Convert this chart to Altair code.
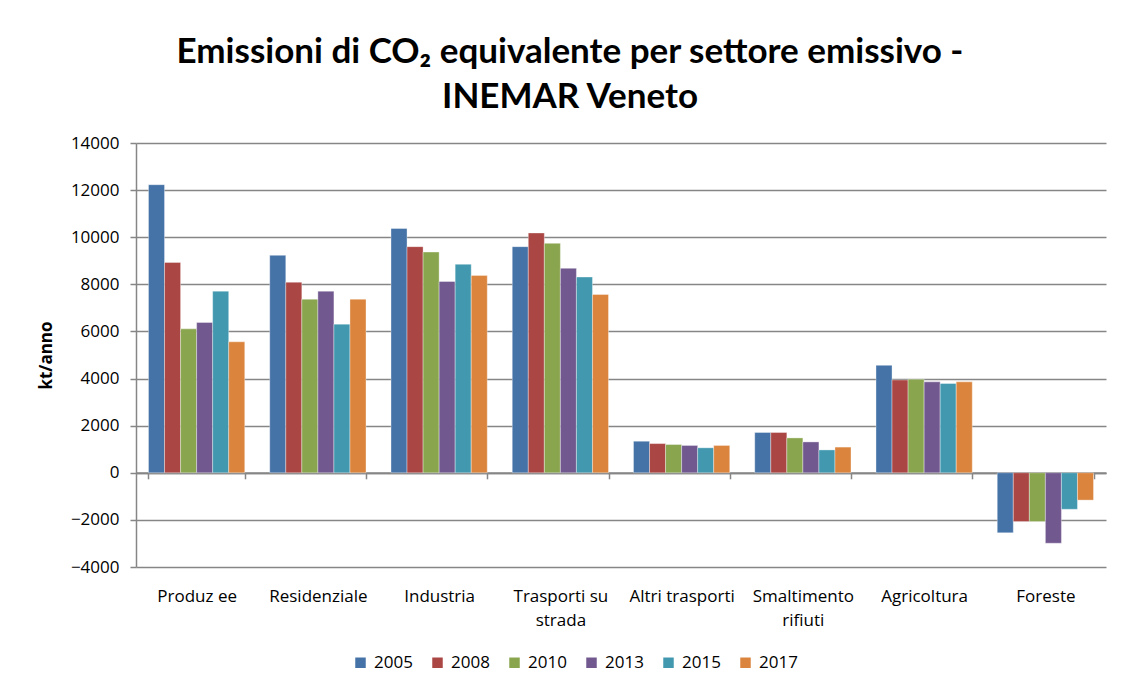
import altair as alt
import pandas as pd

categories = ["Produz ee", "Residenziale", "Industria", "Trasporti su strada",
              "Altri trasporti", "Smaltimento rifiuti", "Agricoltura", "Foreste"]
years = ["2005", "2008", "2010", "2013", "2015", "2017"]

v2005 = [12230, 9230, 10370, 9600, 1340, 1710, 4560, -2550]
v2008 = [8930, 8090, 9600, 10180, 1240, 1710, 3940, -2070]
v2010 = [6110, 7370, 9370, 9740, 1200, 1480, 3970, -2070]
v2013 = [6380, 7710, 8120, 8680, 1160, 1310, 3860, -2990]
v2015 = [7710, 6310, 8850, 8310, 1060, 970, 3790, -1550]
v2017 = [5560, 7370, 8380, 7570, 1160, 1090, 3860, -1160]
series = [v2005, v2008, v2010, v2013, v2015, v2017]

y_ticks = [-4000, -2000, 0, 2000, 4000, 6000, 8000, 10000, 12000, 14000]
colors = ["#4572A7", "#AA4643", "#89A54E", "#71588F", "#4198AF", "#DB843D"]

rows = []
for yr, vals in zip(years, series):
    for c, v in zip(categories, vals):
        rows.append({"Settore": c, "Anno": yr, "Valore": v})
df = pd.DataFrame(rows)

FONT = "Open Sans"
TFONT = "Lato"
GRAY = "#868686"

label_expr = ("datum.label == 'Trasporti su strada' ? ['Trasporti su', 'strada'] : "
              "datum.label == 'Smaltimento rifiuti' ? ['Smaltimento', 'rifiuti'] : datum.label")

chart = alt.Chart(df).mark_bar(stroke="white", strokeWidth=0.6, strokeOpacity=0.6).encode(
    x=alt.X("Settore:N", sort=categories, title=None,
            scale=alt.Scale(paddingInner=0.206, paddingOuter=0.103),
            axis=alt.Axis(orient="bottom", offset=-94.2, tickBand="extent", labelAngle=0,
                          labelPadding=110, labelExpr=label_expr, labelFontSize=17,
                          labelFont=FONT, labelColor="black", labelLineHeight=24,
                          labelOverlap=False, labelBaseline="top",
                          domainColor=GRAY, domainWidth=2, tickColor=GRAY, tickSize=6,
                          tickWidth=1.5, grid=False)),
    xOffset=alt.XOffset("Anno:N", sort=years, scale=alt.Scale(paddingInner=0, paddingOuter=0)),
    y=alt.Y("Valore:Q", scale=alt.Scale(domain=[-4000, 14000], nice=False),
            axis=alt.Axis(values=y_ticks, format="d", title="kt/anno", labelFontSize=17,
                          labelFont=FONT, labelColor="black", labelPadding=11,
                          tickSize=6, tickColor=GRAY, tickWidth=1.5,
                          domainColor=GRAY, domainWidth=1.5,
                          gridColor=GRAY, gridWidth=1.5,
                          titleFont=FONT, titleFontSize=17, titleFontWeight="bold",
                          titleColor="black", titlePadding=15)),
    color=alt.Color("Anno:N", sort=years, scale=alt.Scale(domain=years, range=colors),
                    legend=alt.Legend(orient="none", legendX=216, legendY=511,
                                      direction="horizontal", symbolType="square",
                                      symbolSize=110, symbolStrokeWidth=0,
                                      labelFontSize=17, labelFont=FONT, labelColor="black",
                                      labelOffset=5, columnPadding=16, title=None, padding=0)),
).properties(
    width=970, height=424,
    title=alt.TitleParams(["Emissioni di CO₂ equivalente per settore emissivo -", "INEMAR Veneto"],
                          fontSize=35, font=TFONT, fontWeight="bold", color="black",
                          anchor="middle", dx=-51, lineHeight=45, offset=19),
    padding={"left": 128, "top": 135, "right": 11, "bottom": 112},
    autosize="none",
).configure_view(stroke=None)

chart.save("out.html", embed_options={"renderer": "svg", "actions": False})
